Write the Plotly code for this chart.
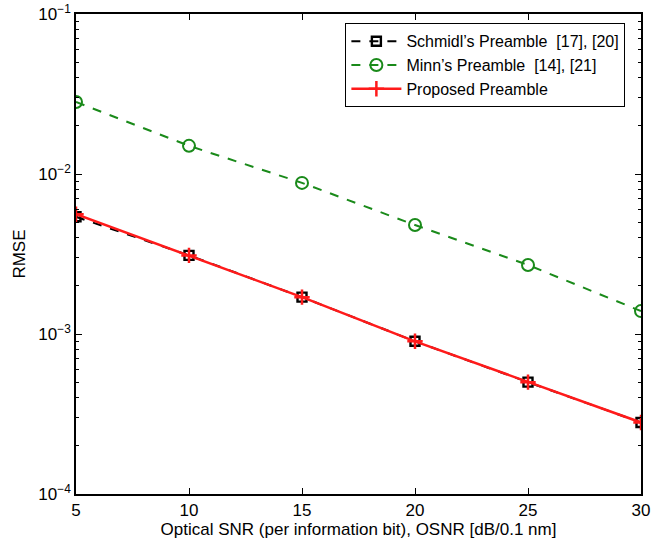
import plotly.graph_objects as go

# OSNR sweep [dB/0.1 nm]
osnr = [5, 10, 15, 20, 25, 30]

# RMSE for each preamble
rmse_schmidl = [0.0054, 0.0031, 0.0017, 0.00090, 0.00050, 0.00028]
rmse_minn = [0.0282, 0.0150, 0.0088, 0.0048, 0.0027, 0.00139]
rmse_proposed = [0.0056, 0.0031, 0.0017, 0.00090, 0.00050, 0.00028]

x_ticks = [5, 10, 15, 20, 25, 30]
y_ticks = [1e-4, 1e-3, 1e-2, 1e-1]
y_ticktext = ["10<sup>−4</sup>", "10<sup>−3</sup>", "10<sup>−2</sup>", "10<sup>−1</sup>"]

font = "Liberation Sans, Arial, Helvetica, sans-serif"
fsize = 17

fig = go.Figure()
fig.add_trace(go.Scatter(
    x=osnr, y=rmse_schmidl, name="Schmidl’s Preamble  [17], [20]",
    mode="lines+markers",
    line=dict(color="black", width=2, dash="dash"),
    marker=dict(symbol="square-open", size=9, color="black", line=dict(width=2.4)),
))
fig.add_trace(go.Scatter(
    x=osnr, y=rmse_minn, name="Minn’s Preamble  [14], [21]",
    mode="lines+markers",
    line=dict(color="#1a8a1a", width=2, dash="dash"),
    marker=dict(symbol="circle-open", size=12, color="#1a8a1a", line=dict(width=2)),
))
fig.add_trace(go.Scatter(
    x=osnr, y=rmse_proposed, name="Proposed Preamble",
    mode="lines+markers",
    line=dict(color="#ff1a1a", width=2.5),
    marker=dict(symbol="cross-thin-open", size=11, color="#ff1a1a", line=dict(width=2.5, color="#ff1a1a")),
))

axis_common = dict(
    showline=True, linecolor="black", linewidth=1.5, mirror="ticks",
    ticks="inside", ticklen=6, tickcolor="black", tickwidth=1,
    showgrid=False, zeroline=False, automargin=False,
    tickfont=dict(family=font, size=fsize, color="black"),
    title_font=dict(family=font, size=fsize, color="black"),
)

fig.update_xaxes(
    range=[5, 30], tickvals=x_ticks,
    title_text="Optical SNR (per information bit), OSNR [dB/0.1 nm]",
    title_standoff=2,
    **axis_common,
)
fig.update_yaxes(
    type="log", range=[-4, -1], tickvals=y_ticks, ticktext=y_ticktext,
    title_text="RMSE", title_standoff=8,
    minor=dict(ticks="inside", ticklen=3, tickcolor="black", showgrid=False,
               dtick="D1"),
    **axis_common,
)

fig.update_layout(
    width=657, height=542,
    margin=dict(l=76, r=16, t=14, b=48),
    paper_bgcolor="white", plot_bgcolor="white",
    font=dict(family=font, size=fsize, color="black"),
    showlegend=True,
    legend=dict(
        x=0.972, y=0.981, xanchor="right", yanchor="top",
        bgcolor="white", bordercolor="black", borderwidth=1.2,
        font=dict(family=font, size=16, color="black"),
        tracegroupgap=0, itemwidth=50,
    ),
)

fig.write_html("out.html")
